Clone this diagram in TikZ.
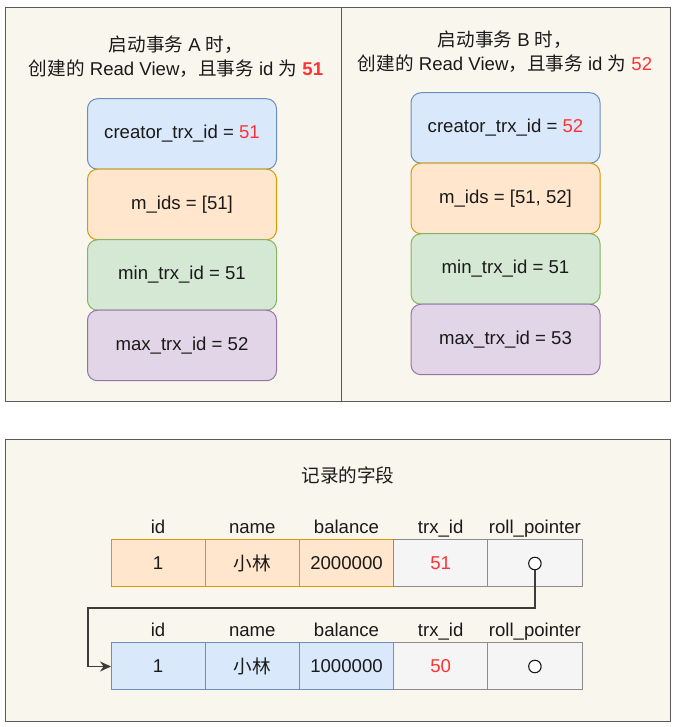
\documentclass[tikz,border=0pt]{standalone}
\usepackage{fontspec}
\setmainfont{Liberation Sans}
\newfontfamily\cjk{Noto Sans CJK SC}
\usepackage{xcolor}
\usepackage{tikz}
\usetikzlibrary{arrows.meta,positioning}

\definecolor{paper}{HTML}{F9F7ED}
\definecolor{frame}{HTML}{5A5A5A}
\definecolor{ink}{HTML}{1A1A1A}
\definecolor{hot}{HTML}{FF3333}
\definecolor{bluef}{HTML}{DAE8FC}\definecolor{blued}{HTML}{6C8EBF}
\definecolor{orgf}{HTML}{FFE6CC}\definecolor{orgd}{HTML}{D79B00}
\definecolor{grnf}{HTML}{D5E8D4}\definecolor{grnd}{HTML}{82B366}
\definecolor{purf}{HTML}{E1D5E7}\definecolor{purd}{HTML}{9673A6}
\definecolor{gryf}{HTML}{F5F5F5}\definecolor{gryd}{HTML}{8C8C8C}

\newcommand{\zh}[1]{{\cjk #1}}
\newcommand{\hl}[1]{\textcolor{hot}{#1}}

\begin{document}
\begin{tikzpicture}[x=1pt, y=1pt,
  every node/.style={font=\fontsize{18.6}{24}\selectfont, text=ink},
  panel/.style={draw=frame, fill=paper, line width=1pt},
  fld/.style={rectangle, rounded corners=10pt, line width=1pt,
              minimum width=189pt, minimum height=70.5pt, outer sep=0pt, inner sep=0pt},
  cell/.style={rectangle, line width=1pt,
               minimum width=94.2pt, minimum height=47pt, outer sep=0pt, inner sep=0pt},
  hdr/.style={inner sep=0pt, text height=0.75em, text depth=0.25em},
  ptr/.style={circle, draw=ink, fill=white, line width=1.1pt, minimum size=12.5pt, inner sep=0pt}
]
  \useasboundingbox (0,0) rectangle (675,727);

  % panels
  \draw[panel] (5,325) rectangle (670,719);
  \draw[frame, line width=1pt] (341,325) -- (341,719);
  \draw[panel] (5,5) rectangle (670,287);

  % read view of A
  \node[align=center] (titA) at (176,670)
    {\zh{启动事务} A \zh{时，}\\\zh{创建的} Read View\zh{，且事务} id \zh{为} \textbf{\hl{51}}};
  \node[fld, fill=bluef, draw=blued] (A1) at (182,593) {creator\_trx\_id = \hl{51}};
  \node[fld, fill=orgf, draw=orgd, below=0pt of A1] (A2) {m\_ids = [51]};
  \node[fld, fill=grnf, draw=grnd, below=0pt of A2] (A3) {min\_trx\_id = 51};
  \node[fld, fill=purf, draw=purd, below=0pt of A3] (A4) {max\_trx\_id = 52};

  % read view of B
  \node[align=center] (titB) at (505,675.5)
    {\zh{启动事务} B \zh{时，}\\\zh{创建的} Read View\zh{，且事务} id \zh{为} \hl{52}};
  \node[fld, fill=bluef, draw=blued] (B1) at (505.5,599) {creator\_trx\_id = \hl{52}};
  \node[fld, fill=orgf, draw=orgd, below=0pt of B1] (B2) {m\_ids = [51, 52]};
  \node[fld, fill=grnf, draw=grnd, below=0pt of B2] (B3) {min\_trx\_id = 51};
  \node[fld, fill=purf, draw=purd, below=0pt of B3] (B4) {max\_trx\_id = 53};

  % record fields
  \node (recT) at (348,252) {\zh{记录的字段}};

  \node[cell, fill=orgf, draw=orgd] (r1) at (158.1,163.5) {1};
  \node[cell, fill=orgf, draw=orgd, right=0pt of r1] (r2) {\zh{小林}};
  \node[cell, fill=orgf, draw=orgd, right=0pt of r2] (r3) {2000000};
  \node[cell, fill=gryf, draw=gryd, right=0pt of r3] (r4) {\hl{51}};
  \node[cell, fill=gryf, draw=gryd, right=0pt of r4] (r5) {};
  \node[ptr] (ptr1) at (r5) {};

  \node[cell, fill=bluef, draw=blued] (s1) at (158.1,60.5) {1};
  \node[cell, fill=bluef, draw=blued, right=0pt of s1] (s2) {\zh{小林}};
  \node[cell, fill=bluef, draw=blued, right=0pt of s2] (s3) {1000000};
  \node[cell, fill=gryf, draw=gryd, right=0pt of s3] (s4) {\hl{50}};
  \node[cell, fill=gryf, draw=gryd, right=0pt of s4] (s5) {};
  \node[ptr] (ptr2) at (s5) {};

  % column headers
  \foreach \row in {r,s}{
    \node[hdr, above=4pt of \row1] (h\row1) {id};
    \node[hdr, above=4pt of \row2] (h\row2) {name};
    \node[hdr, above=4pt of \row3] (h\row3) {balance};
    \node[hdr, above=4pt of \row4] (h\row4) {trx\_id};
    \node[hdr, above=4pt of \row5] (h\row5) {roll\_pointer};
  }

  % roll pointer chain
  \coordinate (turn) at (88,119);
  \draw[ink!85, line width=1.3pt, -{Stealth[length=11pt, width=10pt]}]
    (ptr1.south) |- (turn) |- (s1.west);
\end{tikzpicture}
\end{document}
